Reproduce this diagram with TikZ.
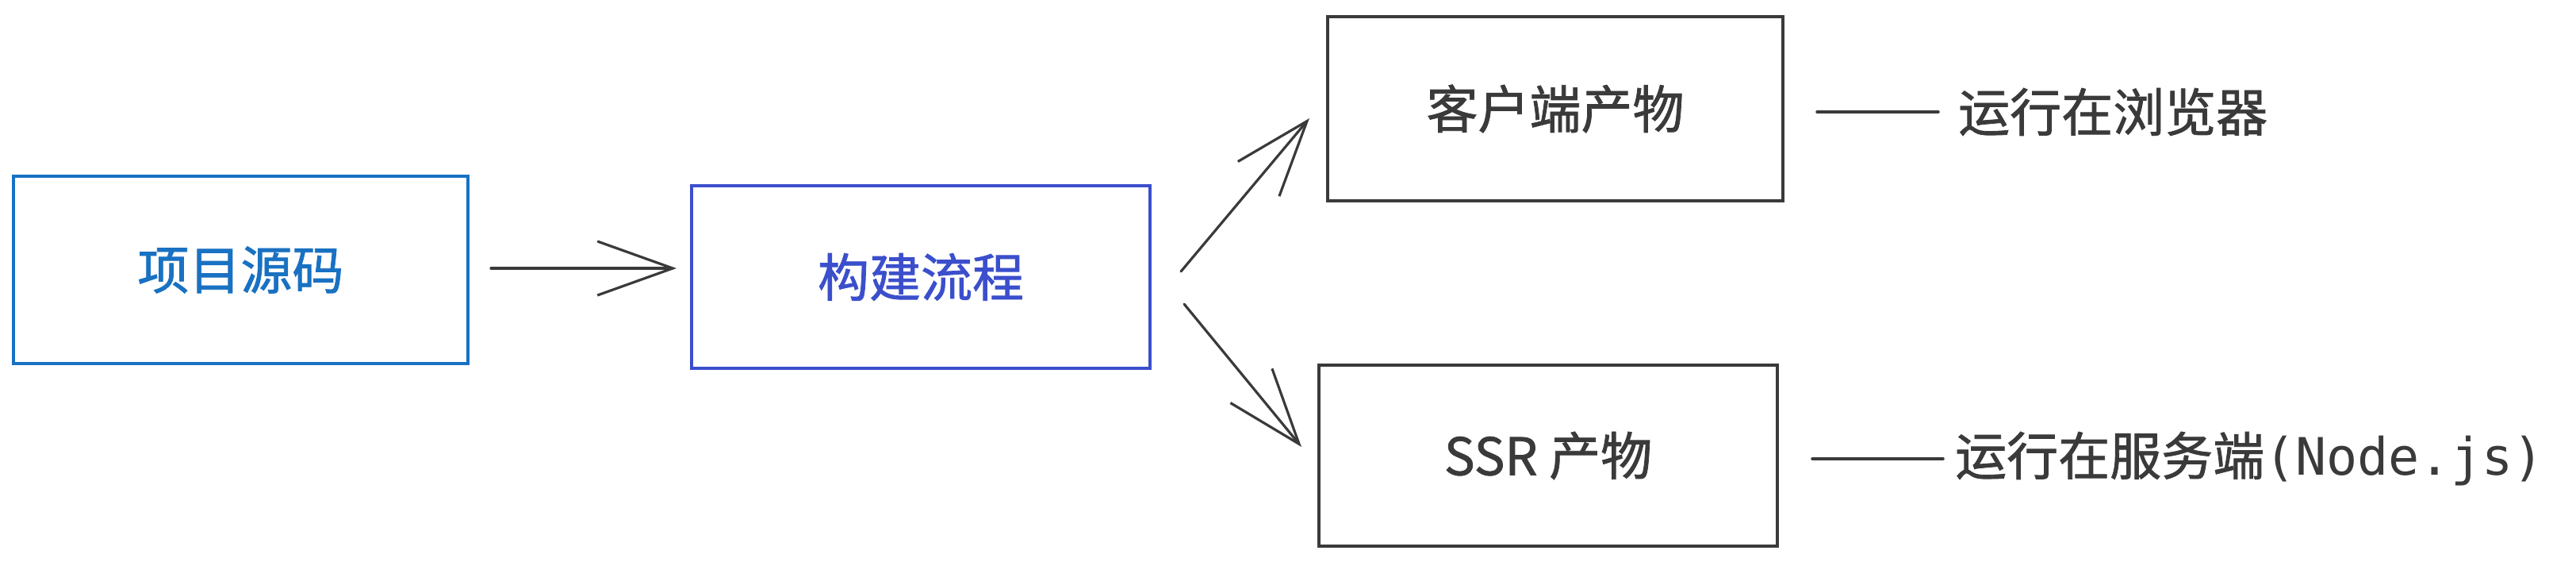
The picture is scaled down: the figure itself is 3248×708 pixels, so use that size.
\documentclass[tikz,border=0pt]{standalone}
\usepackage{fontspec}
\setmainfont{Noto Sans CJK SC}
\newfontfamily\cjkm{Noto Sans CJK SC}[FakeBold=1.2]
\newfontfamily\monofont{DejaVu Sans Mono}
\usetikzlibrary{arrows.meta,calc}
\definecolor{cblue}{HTML}{1971C2}
\definecolor{cindigo}{HTML}{3B4FCC}
\definecolor{cgray}{HTML}{3A3A3A}
\begin{document}
\begin{tikzpicture}[x=1pt,y=-1pt,
  box/.style={draw,rectangle,line width=4pt,inner sep=0pt,
    font=\cjkm\fontsize{65pt}{78pt}\selectfont},
  lab/.style={anchor=west,inner sep=0pt,text=cgray,
    font=\cjkm\fontsize{65pt}{78pt}\selectfont},
  arr/.style={draw=cgray,line width=3.2pt,line cap=round,
    -{Straight Barb[length=95pt,width=68pt,line width=3.2pt]}},
  conn/.style={draw=cgray,line width=3.5pt,line cap=round}]
\useasboundingbox (0,0) rectangle (3248,708);
\node[box,draw=cblue,text=cblue,minimum width=573pt,minimum height=236pt] (src) at (303.5,340) {项目源码};
\node[box,draw=cindigo,text=cindigo,minimum width=578pt,minimum height=230pt] (build) at (1161,349) {构建流程};
\node[box,draw=cgray,text=cgray,minimum width=574pt,minimum height=232pt] (client) at (1961,137) {客户端产物};
\node[box,draw=cgray,text=cgray,minimum width=578pt,minimum height=228pt] (ssr) at (1952,574) {SSR 产物};
\node[lab] (lab1) at (2469,141) {运行在浏览器};
\node[lab] (lab2) at (2465,578) {运行在服务端{\monofont(Node.js)}};
\coordinate (a1) at ($(src.east)+(27,-2)$);
\coordinate (a2) at ($(build.west)+(-17,-11)$);
\coordinate (u1) at ($(build.east)+(37,-7)$);
\coordinate (u2) at ($(client.west)+(-21,12)$);
\coordinate (d1) at ($(build.east)+(41,34)$);
\coordinate (d2) at ($(ssr.west)+(-20,-11)$);
\draw[arr] (a1) -- (a2);
\draw[arr] (u1) -- (u2);
\draw[arr] (d1) -- (d2);
\draw[conn,shorten <=41pt,shorten >=25pt] (client.east |- lab1.west) -- (lab1.west);
\draw[conn,shorten <=42pt,shorten >=15pt] (ssr.east |- lab2.west) -- (lab2.west);
\end{tikzpicture}
\end{document}
